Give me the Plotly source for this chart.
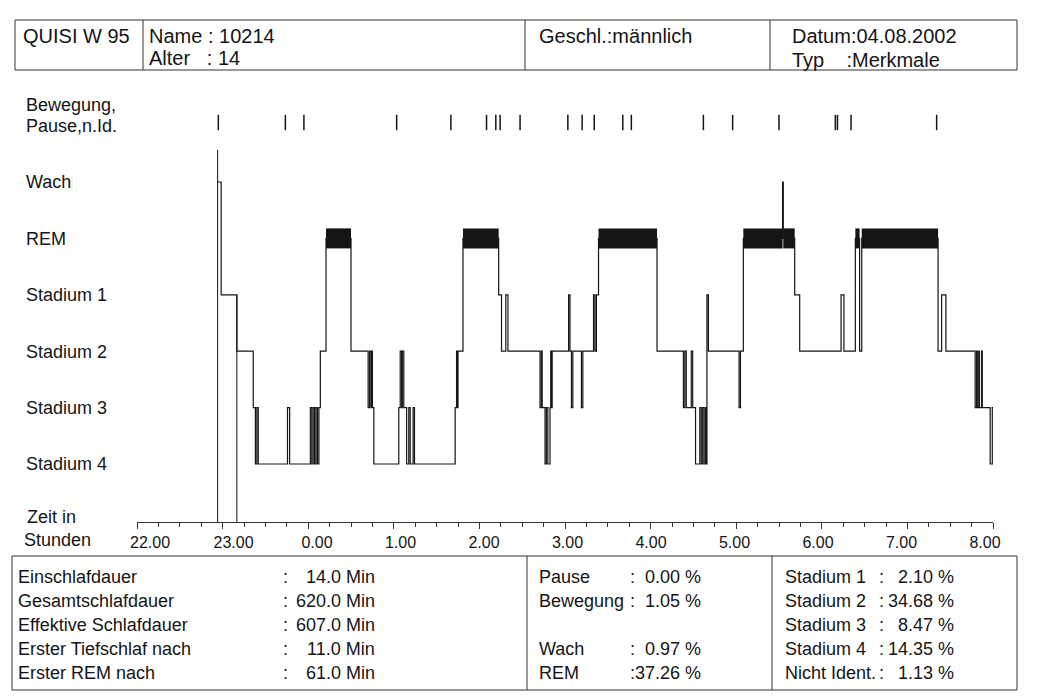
import plotly.graph_objects as go

# ---------------- data ----------------
# hypnogram: start time of each epoch run (minutes after 22:00) and stage
hyp_t = [56.5, 59, 70,
         81.5, 83, 84, 85,
         105.5, 107,
         121.5, 122.5, 123.5, 124.5, 125.5, 126.5, 127.5,
         128.5, 132.5, 150,
         162, 163, 164, 164.5, 165, 166,
         183.5, 184.5, 185.5, 186, 187, 189, 190.5, 191.5, 193.5, 194.5,
         223, 224, 224.5, 225,
         228.5,
         253.5, 255.5, 258.5, 260,
         282.5, 283.5, 284, 286, 287, 288, 289.5, 290, 290.5, 291,
         302.5, 303.5, 304.5, 305.5, 311.5, 312.5,
         320, 321, 322,
         323.5, 364.5,
         383, 384, 385, 388.5, 389.5,
         391.5, 394.5, 395.5, 396.5, 397.5, 398.5, 399,
         399.5, 400.5,
         422, 423,
         425, 452.5, 453,
         461, 464.5,
         493.5, 495.5,
         503.5, 506.5, 508,
         561.5, 564, 567,
         587.5, 588.5, 589, 590, 590.5, 592, 592.5,
         598, 599.5, 600.5, 601.5, 602]
hyp_stage = ["W", "S1", "S2",
             "S3", "S4", "S3", "S4",
             "S3", "S4",
             "S3", "S4", "S3", "S4", "S3", "S4", "S3",
             "S2", "REM", "S2",
             "S3", "S2", "S3", "S2", "S3", "S4",
             "S3", "S2", "S3", "S2", "S3", "S4", "S3", "S4", "S3", "S4",
             "S3", "S2", "S3", "S2",
             "REM",
             "S1", "S2", "S1", "S2",
             "S3", "S2", "S3", "S4", "S3", "S4", "S3", "S2", "S3", "S2",
             "S1", "S2", "S3", "S2", "S3", "S2",
             "S1", "S2", "S1",
             "REM", "S2",
             "S3", "S2", "S3", "S2", "S3",
             "S4", "S3", "S4", "S3", "S4", "S3", "S4",
             "S1", "S2",
             "S3", "S2",
             "REM", "W", "REM",
             "S1", "S2",
             "S1", "S2",
             "REM", "S2", "REM",
             "S2", "S1", "S2",
             "S3", "S2", "S3", "S2", "S3", "S2", "S3",
             "S4", "S3", "S4", "S3", "S4"]
hyp_end = 603.0

lights_off_min = 56.5
sleep_onset_min = 70.0

# movement / pause / not identified events (minutes after 22:00)
event_t = [57, 104, 117, 182, 220, 245, 251.5, 254.5, 268.5, 302, 312, 320.5,
           340.5, 346.5, 397, 417.5, 450, 489.5, 491, 500.5, 560.5]

stage_names = ["Stadium 4", "Stadium 3", "Stadium 2", "Stadium 1", "REM", "Wach"]
stage_codes = ["S4", "S3", "S2", "S1", "REM", "W"]
event_row_labels = ["Bewegung,", "Pause,n.Id."]

hour_ticks_min = [0, 60, 120, 180, 240, 300, 360, 420, 480, 540, 600]
hour_labels = ["22.00", "23.00", "0.00", "1.00", "2.00", "3.00", "4.00",
               "5.00", "6.00", "7.00", "8.00"]

header_system = "QUISI W 95"
header_name = "10214"
header_age = "14"
header_sex = "männlich"
header_date = "04.08.2002"
header_type = "Merkmale"

left_labels = ["Einschlafdauer", "Gesamtschlafdauer", "Effektive Schlafdauer",
               "Erster Tiefschlaf nach", "Erster REM nach"]
left_minutes = [14.0, 620.0, 607.0, 11.0, 61.0]
mid_labels = ["Pause", "Bewegung", "", "Wach", "REM"]
mid_pct = [0.00, 1.05, None, 0.97, 37.26]
right_labels = ["Stadium 1", "Stadium 2", "Stadium 3", "Stadium 4", "Nicht Ident."]
right_pct = [2.10, 34.68, 8.47, 14.35, 1.13]

# ---------------- layout helpers ----------------
W, H = 1060, 697
def px(x):
    return x / W
def py(y):
    return 1 - y / H

FONT = "Arial, Liberation Sans, sans-serif"
INK = "#151515"
BODY = 18

stage_y = {c: i for i, c in enumerate(stage_codes)}
SP = 56.4  # px between stage rows, Stadium 4 at y=464 px
def val_at(ypix):
    return (464 - ypix) / SP
y_top_px, y_bot_px = 86, 522
yrange = [val_at(y_bot_px), val_at(y_top_px)]
ydomain = [py(y_bot_px), py(y_top_px)]

event_y = val_at(122.5)
row_label_vals = [val_at(105), val_at(126)]

fig = go.Figure()

# hypnogram step line
xs = list(hyp_t) + [hyp_end]
ys = [stage_y[s] for s in hyp_stage] + [stage_y[hyp_stage[-1]]]
fig.add_trace(go.Scatter(x=xs, y=ys, mode="lines", line=dict(shape="hv", color=INK, width=1.2),
                         cliponaxis=False, hoverinfo="skip", showlegend=False))

# REM bars
rx, ry = [], []
for i, s in enumerate(hyp_stage):
    if s == "REM":
        e = hyp_t[i + 1] if i + 1 < len(hyp_t) else hyp_end
        rx += [hyp_t[i], e, None]
        ry += [stage_y["REM"], stage_y["REM"], None]
fig.add_trace(go.Scatter(x=rx, y=ry, mode="lines", line=dict(color=INK, width=20),
                         cliponaxis=False, hoverinfo="skip", showlegend=False))

# event marks
fig.add_trace(go.Scatter(x=event_t, y=[event_y] * len(event_t), mode="markers",
                         marker=dict(symbol="line-ns", size=11, line=dict(color=INK, width=1.5)),
                         cliponaxis=False, hoverinfo="skip", showlegend=False))

# dummy trace carrying the label axis
fig.add_trace(go.Scatter(x=[0, 600], y=[-5, -5], xaxis="x2", yaxis="y", mode="markers",
                         marker=dict(opacity=0), hoverinfo="skip", showlegend=False))

# lights-off and sleep-onset markers
fig.add_shape(type="line", xref="x", yref="y", x0=lights_off_min, x1=lights_off_min,
              y0=val_at(150), y1=val_at(526), line=dict(color=INK, width=1))
fig.add_shape(type="line", xref="x", yref="y", x0=sleep_onset_min, x1=sleep_onset_min,
              y0=stage_y["S1"], y1=val_at(526), line=dict(color=INK, width=1))

# boxes
BOX = dict(color="#333", width=1)
fig.add_shape(type="rect", xref="paper", yref="paper", x0=px(15), x1=px(1017), y0=py(70), y1=py(20), line=BOX)
for xd in [143, 525, 770]:
    fig.add_shape(type="line", xref="paper", yref="paper", x0=px(xd), x1=px(xd), y0=py(70), y1=py(20), line=BOX)
fig.add_shape(type="rect", xref="paper", yref="paper", x0=px(12), x1=px(1017), y0=py(690), y1=py(556), line=BOX)
for xd in [527, 772]:
    fig.add_shape(type="line", xref="paper", yref="paper", x0=px(xd), x1=px(xd), y0=py(690), y1=py(556), line=BOX)

ann = []
def text(x, y, s, size=BODY, anchor="left"):
    ann.append(dict(x=px(x), y=py(y), xref="paper", yref="paper", text=s, showarrow=False,
                    xanchor=anchor, yanchor="middle", font=dict(family=FONT, size=size, color=INK)))

# header
HS = 20
text(21, 36, header_system, HS)
text(147, 36, "Name : " + header_name, HS)
text(147, 58, "Alter&nbsp;&nbsp;&nbsp;: " + header_age, HS)
text(537, 36, "Geschl.:" + header_sex, HS)
text(790, 36, "Datum:" + header_date, HS)
text(790, 60, "Typ&nbsp;&nbsp;&nbsp;&nbsp;:" + header_type, HS)

# axis caption
text(25, 517, "Zeit in")
text(22, 540, "Stunden")

# statistics table
rows_y = [577, 601, 625, 649, 673]
for i, yv in enumerate(rows_y):
    text(16, yv, left_labels[i])
    text(281, yv, ":")
    text(377, yv, f"{left_minutes[i]:.1f} Min", anchor="right")
    if mid_labels[i]:
        text(537, yv, mid_labels[i])
        text(628, yv, ":")
        text(703, yv, f"{mid_pct[i]:.2f} %", anchor="right")
    text(783, yv, right_labels[i])
    text(877, yv, ":")
    text(956, yv, f"{right_pct[i]:.2f} %", anchor="right")

fig.update_layout(
    width=W, height=H, autosize=False,
    margin=dict(l=0, r=0, t=0, b=0, pad=0),
    paper_bgcolor="white", plot_bgcolor="rgba(0,0,0,0)",
    font=dict(family=FONT, size=BODY, color=INK),
    annotations=ann,
    xaxis=dict(domain=[px(137), px(993)], range=[0, 600], anchor="y", automargin=False,
               showgrid=False, zeroline=False, showline=True, linecolor="#333", linewidth=1,
               tickvals=hour_ticks_min, ticks="outside", ticklen=6, tickcolor="#333",
               showticklabels=False,
               minor=dict(dtick=15, tick0=0, ticks="outside", ticklen=3.5, tickcolor="#333")),
    xaxis2=dict(domain=[px(150), px(985)], range=[0, 600], anchor="y", automargin=False,
                showgrid=False, zeroline=False, showline=False,
                tickvals=hour_ticks_min, ticktext=hour_labels,
                ticks="outside", ticklen=6, tickcolor="rgba(0,0,0,0)",
                tickfont=dict(family=FONT, size=16, color=INK)),
    yaxis=dict(domain=ydomain, range=yrange, anchor="free", position=px(22), automargin=False,
               showgrid=False, zeroline=False, showline=False, ticks="",
               ticklabelposition="inside",
               tickvals=row_label_vals + list(range(len(stage_names))),
               ticktext=event_row_labels + stage_names,
               tickfont=dict(family=FONT, size=BODY, color=INK)),
)

fig.write_html("out.html", config={"displayModeBar": False},
               post_script="document.body.style.margin='0';")
